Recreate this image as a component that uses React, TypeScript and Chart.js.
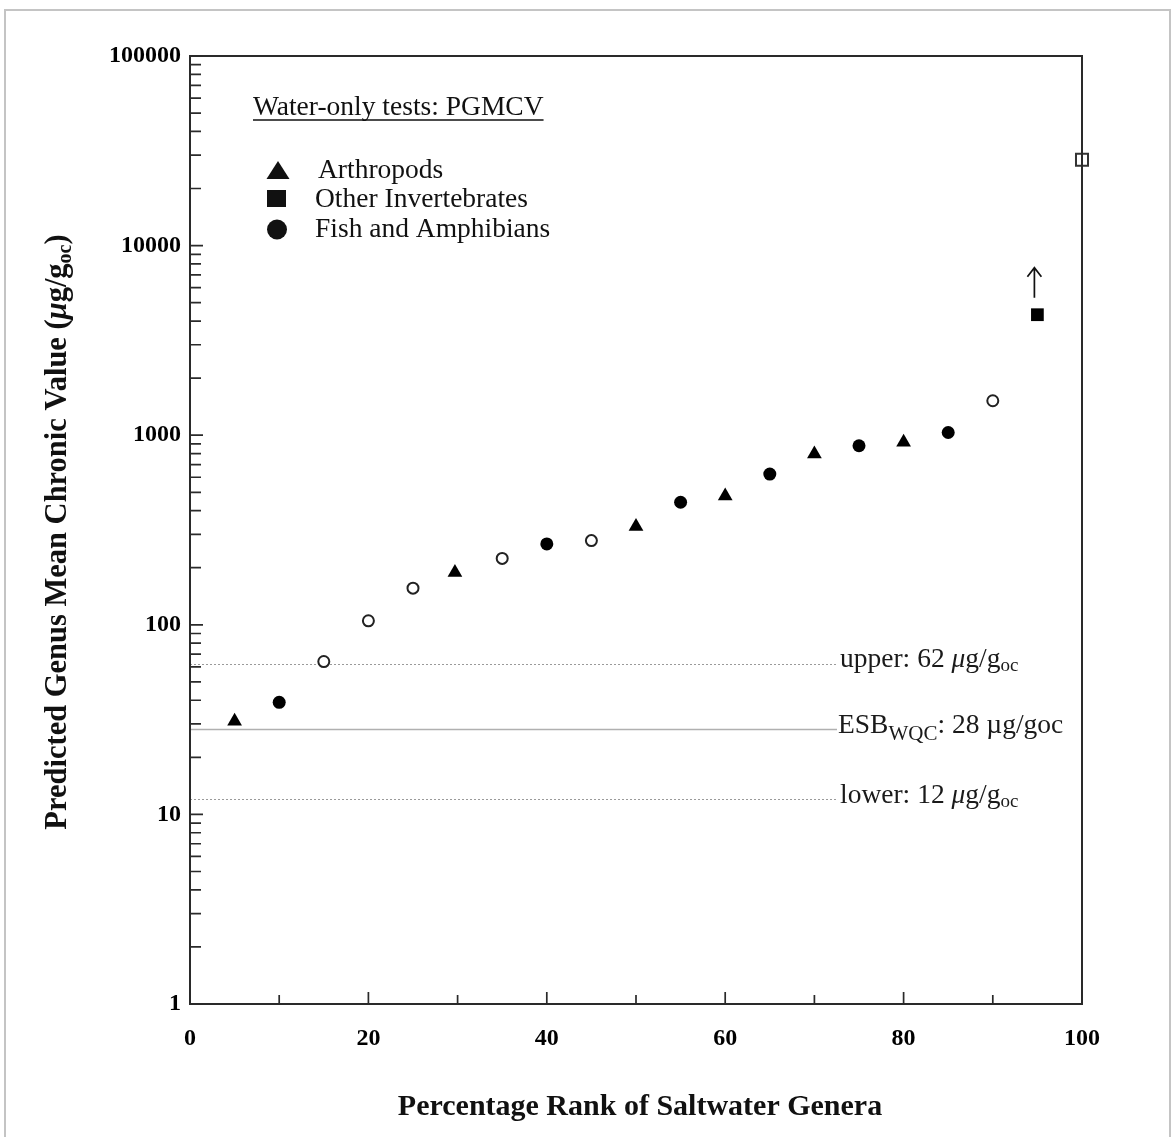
import React, { useEffect, useRef } from "react";
import { Chart, registerables } from "chart.js";

Chart.register(...registerables);

// ---- data ----
const arthropodsX = [5, 29.7, 50, 60, 70, 80];
const arthropodsY = [31, 189, 330, 478, 796, 918];
const otherInvertX = [95];
const otherInvertY = [4320];
const fishX = [10, 40, 55, 65, 75, 85];
const fishY = [39, 267, 443, 624, 880, 1033];
const openCircleX = [15, 20, 25, 35, 45, 90];
const openCircleY = [64, 105, 156, 224, 278, 1520];
const openSquareX = [100];
const openSquareY = [28400];

const yTickValues = [1, 10, 100, 1000, 10000, 100000];
const xTickValues = [0, 20, 40, 60, 80, 100];
const xMinorTickValues = [10, 30, 50, 70, 90];

const upperValue = 62;
const esbValue = 28;
const lowerValue = 12;

const legendTitle = "Water-only tests: PGMCV";
const legendLabels = ["Arthropods", "Other Invertebrates", "Fish and Amphibians"];
const xTitle = "Percentage Rank of Saltwater Genera";

const W = 1172;
const H = 1137;
const SERIF = "'Liberation Serif', 'Times New Roman', serif";

function pts(xs: number[], ys: number[]) {
  return xs.map((x, i) => ({ x, y: ys[i] }));
}

type Seg = { t: string; size: number; style?: string; weight?: string; dy?: number };

function drawSegs(ctx: CanvasRenderingContext2D, segs: Seg[], x: number, y: number) {
  let cx = x;
  for (const s of segs) {
    ctx.font = `${s.style || "normal"} ${s.weight || "normal"} ${s.size}px ${SERIF}`;
    ctx.fillText(s.t, cx, y + (s.dy || 0));
    cx += ctx.measureText(s.t).width;
  }
  return cx;
}
function segsWidth(ctx: CanvasRenderingContext2D, segs: Seg[]) {
  let w = 0;
  for (const s of segs) {
    ctx.font = `${s.style || "normal"} ${s.weight || "normal"} ${s.size}px ${SERIF}`;
    w += ctx.measureText(s.t).width;
  }
  return w;
}

const decorPlugin = {
  id: "decor",
  beforeDraw(chart: any) {
    const ctx = chart.ctx as CanvasRenderingContext2D;
    ctx.save();
    ctx.fillStyle = "#ffffff";
    ctx.fillRect(0, 0, W, H);
    // page frame
    ctx.strokeStyle = "#c4c4c4";
    ctx.lineWidth = 2;
    ctx.beginPath();
    ctx.moveTo(5, H);
    ctx.lineTo(5, 10);
    ctx.lineTo(1170, 10);
    ctx.lineTo(1170, H);
    ctx.stroke();
    ctx.restore();
  },
  beforeDatasetsDraw(chart: any) {
    const ctx = chart.ctx as CanvasRenderingContext2D;
    const { left } = chart.chartArea;
    const ys = chart.scales.y;
    const labelX = 840;
    const lineEnd = labelX - 3;
    ctx.save();
    const yU = ys.getPixelForValue(upperValue);
    const yE = ys.getPixelForValue(esbValue);
    const yL = ys.getPixelForValue(lowerValue);
    ctx.lineWidth = 1;
    ctx.strokeStyle = "#9a9a9a";
    ctx.setLineDash([2, 2]);
    for (const yy of [yU, yL]) {
      ctx.beginPath();
      ctx.moveTo(left, Math.round(yy) + 0.5);
      ctx.lineTo(lineEnd, Math.round(yy) + 0.5);
      ctx.stroke();
    }
    ctx.setLineDash([]);
    ctx.strokeStyle = "#b0b0b0";
    ctx.lineWidth = 1.5;
    ctx.beginPath();
    ctx.moveTo(left, yE);
    ctx.lineTo(lineEnd, yE);
    ctx.stroke();

    // labels
    ctx.fillStyle = "#1a1a1a";
    ctx.textAlign = "left";
    ctx.textBaseline = "alphabetic";
    const F = 27.5;
    const S = 19;
    drawSegs(ctx, [
      { t: "upper: 62 ", size: F },
      { t: "\u03bc", size: F, style: "italic" },
      { t: "g/g", size: F },
      { t: "oc", size: S, dy: 4 },
    ], labelX, yU + 3);
    drawSegs(ctx, [
      { t: "ESB", size: F },
      { t: "WQC", size: 21, dy: 7 },
      { t: ": 28 \u00b5g/goc", size: F },
    ], labelX - 2, yE + 3);
    drawSegs(ctx, [
      { t: "lower: 12 ", size: F },
      { t: "\u03bc", size: F, style: "italic" },
      { t: "g/g", size: F },
      { t: "oc", size: S, dy: 4 },
    ], labelX, yL + 4);
    ctx.restore();
  },
  afterDraw(chart: any) {
    const ctx = chart.ctx as CanvasRenderingContext2D;
    const { left, right, top, bottom } = chart.chartArea;
    const xs = chart.scales.x;
    const ys = chart.scales.y;
    ctx.save();
    // frame
    ctx.strokeStyle = "#2a2a2a";
    ctx.lineWidth = 2;
    ctx.strokeRect(left, top, right - left, bottom - top);

    // y ticks (inside), major + minor
    ctx.lineWidth = 1.7;
    ctx.beginPath();
    for (let d = 0; d < yTickValues.length; d++) {
      const base = yTickValues[d];
      const yy = ys.getPixelForValue(base);
      ctx.moveTo(left, yy);
      ctx.lineTo(left + 13, yy);
      if (d < yTickValues.length - 1) {
        for (let m = 2; m <= 9; m++) {
          const ym = ys.getPixelForValue(base * m);
          ctx.moveTo(left, ym);
          ctx.lineTo(left + 11, ym);
        }
      }
    }
    // x ticks (inside)
    for (const v of xTickValues) {
      const xx = xs.getPixelForValue(v);
      ctx.moveTo(xx, bottom);
      ctx.lineTo(xx, bottom - 12);
    }
    for (const v of xMinorTickValues) {
      const xx = xs.getPixelForValue(v);
      ctx.moveTo(xx, bottom);
      ctx.lineTo(xx, bottom - 9);
    }
    ctx.stroke();

    // arrow above the Other Invertebrates point
    const ax = xs.getPixelForValue(otherInvertX[0]) - 3;
    const ay = ys.getPixelForValue(otherInvertY[0]);
    ctx.strokeStyle = "#111";
    ctx.lineWidth = 1.7;
    ctx.beginPath();
    ctx.moveTo(ax, ay - 17);
    ctx.lineTo(ax, ay - 47);
    ctx.moveTo(ax - 7, ay - 38);
    ctx.lineTo(ax, ay - 47);
    ctx.lineTo(ax + 7, ay - 38);
    ctx.stroke();

    // legend
    ctx.fillStyle = "#111";
    ctx.textAlign = "left";
    ctx.textBaseline = "alphabetic";
    ctx.font = `27.5px ${SERIF}`;
    ctx.fillText(legendTitle, 253, 115);
    const tw = ctx.measureText(legendTitle).width;
    ctx.lineWidth = 1.5;
    ctx.beginPath();
    ctx.moveTo(253, 120);
    ctx.lineTo(253 + tw, 120);
    ctx.stroke();

    ctx.beginPath();
    ctx.moveTo(278, 161);
    ctx.lineTo(289.5, 179);
    ctx.lineTo(266.5, 179);
    ctx.closePath();
    ctx.fill();
    ctx.fillRect(267, 190, 19, 17);
    ctx.beginPath();
    ctx.arc(277, 229.5, 10, 0, Math.PI * 2);
    ctx.fill();
    ctx.fillText(legendLabels[0], 318, 178);
    ctx.fillText(legendLabels[1], 315, 207);
    ctx.fillText(legendLabels[2], 315, 237);

    // x title
    ctx.font = `bold 30px ${SERIF}`;
    ctx.textAlign = "center";
    ctx.fillText(xTitle, (left + right) / 2 + 4, 1115);

    // y title (rotated)
    const FS = 30.5;
    const ySegs: Seg[] = [
      { t: "Predicted Genus Mean Chronic Value (", size: FS, weight: "bold" },
      { t: "\u03bc", size: FS, weight: "bold", style: "italic" },
      { t: "g/g", size: FS, weight: "bold" },
      { t: "oc", size: 20, weight: "bold", dy: 5 },
      { t: ")", size: FS, weight: "bold" },
    ];
    const w = segsWidth(ctx, ySegs);
    ctx.translate(66, 532);
    ctx.rotate(-Math.PI / 2);
    ctx.textAlign = "left";
    drawSegs(ctx, ySegs, -w / 2, 0);
    ctx.restore();
  },
};

export default function App() {
  const ref = useRef<HTMLCanvasElement | null>(null);
  useEffect(() => {
    document.body.style.margin = "0";
    const canvas = ref.current!;
    const chart = new Chart(canvas, {
      type: "scatter",
      data: {
        datasets: [
          {
            label: legendLabels[0],
            data: pts(arthropodsX, arthropodsY),
            pointStyle: "triangle",
            pointRadius: 8.5,
            backgroundColor: "#000",
            borderColor: "#000",
            borderWidth: 0,
          },
          {
            label: legendLabels[1],
            data: pts(otherInvertX, otherInvertY),
            pointStyle: "rect",
            pointRadius: 9,
            backgroundColor: "#000",
            borderColor: "#000",
            borderWidth: 0,
          },
          {
            label: legendLabels[2],
            data: pts(fishX, fishY),
            pointStyle: "circle",
            pointRadius: 6.5,
            backgroundColor: "#000",
            borderColor: "#000",
            borderWidth: 0,
          },
          {
            label: "open circles",
            data: pts(openCircleX, openCircleY),
            pointStyle: "circle",
            pointRadius: 5.5,
            backgroundColor: "#fff",
            borderColor: "#222",
            borderWidth: 2,
          },
          {
            label: "open square",
            data: pts(openSquareX, openSquareY),
            pointStyle: "rect",
            pointRadius: 8.5,
            backgroundColor: "rgba(255,255,255,0)",
            borderColor: "#333",
            borderWidth: 2,
            clip: false,
          } as any,
        ],
      },
      options: {
        animation: false,
        responsive: false,
        maintainAspectRatio: false,
        devicePixelRatio: 1,
        clip: false,
        layout: { padding: { top: 56, right: 90, left: 0, bottom: 0 } },
        plugins: {
          legend: { display: false },
          tooltip: { enabled: false },
          title: { display: false },
        },
        scales: {
          x: {
            type: "linear",
            min: 0,
            max: 100,
            afterBuildTicks: (s: any) => {
              s.ticks = xTickValues.map((v) => ({ value: v }));
            },
            afterFit: (s: any) => {
              s.height = H - 1004;
            },
            grid: { display: false, drawTicks: false },
            border: { display: false },
            ticks: {
              color: "#000",
              padding: 20,
              maxRotation: 0,
              autoSkip: false,
              font: { family: SERIF, size: 24, weight: "bold" },
            },
          },
          y: {
            type: "logarithmic",
            min: 1,
            max: 100000,
            afterBuildTicks: (s: any) => {
              s.ticks = yTickValues.map((v) => ({ value: v }));
            },
            afterFit: (s: any) => {
              s.width = 190;
            },
            grid: { display: false, drawTicks: false },
            border: { display: false },
            ticks: {
              color: "#000",
              padding: 9,
              autoSkip: false,
              callback: (v: any) => String(v),
              font: { family: SERIF, size: 24, weight: "bold" },
            },
          },
        },
      } as any,
      plugins: [decorPlugin],
    });
    return () => chart.destroy();
  }, []);
  return (
    <div style={{ width: W, height: H, position: "relative" }}>
      <canvas ref={ref} width={W} height={H} style={{ display: "block", width: W, height: H }} />
    </div>
  );
}
